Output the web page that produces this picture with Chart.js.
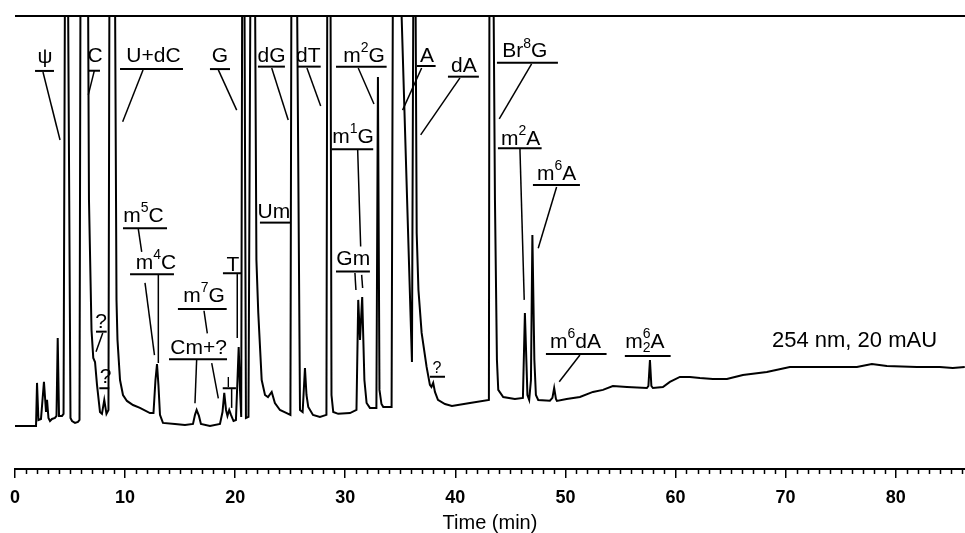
<!DOCTYPE html>
<html>
<head>
<meta charset="utf-8">
<script src="https://cdn.jsdelivr.net/npm/chart.js@4.4.1/dist/chart.umd.min.js"></script>
<style>
  body { margin: 0; background: #fff; }
  canvas { display: block; }
</style>
</head>
<body>
<canvas id="chrom" width="965" height="533"></canvas>
<script>
// retention time (min) and absorbance (mAU); 22 = pen off scale
const timeMin = [
  0.00, 1.91, 2.00, 2.13, 2.36, 2.63, 2.82, 2.91, 3.04, 3.18,
  3.36, 3.63, 3.77, 3.88, 4.00, 4.27, 4.41, 4.54, 4.81, 5.04,
  5.18, 5.45, 5.72, 5.86, 5.95, 6.63, 6.72, 6.95, 7.11, 7.27,
  7.45, 7.72, 7.90, 8.11, 8.31, 8.49, 8.58, 9.08, 9.22, 9.31,
  9.54, 9.81, 10.17, 10.72, 11.35, 12.26, 12.58, 12.76, 12.90, 13.03,
  13.17, 13.44, 14.53, 15.44, 16.17, 16.35, 16.50, 16.71, 16.89, 17.71,
  18.62, 18.85, 19.01, 19.17, 19.30, 19.46, 19.62, 19.85, 20.07, 20.21,
  20.32, 20.44, 20.55, 20.64, 20.84, 20.98, 21.21, 21.39, 21.80, 21.93,
  22.10, 22.41, 22.71, 22.98, 23.32, 23.61, 24.07, 24.68, 25.02, 25.11,
  25.61, 25.89, 26.13, 26.34, 26.48, 26.64, 27.07, 27.70, 28.29, 28.37,
  28.66, 28.75, 28.91, 29.36, 30.43, 31.02, 31.18, 31.34, 31.54, 31.74,
  31.94, 32.24, 32.83, 32.97, 33.11, 33.29, 33.45, 34.21, 34.33, 35.01,
  36.06, 36.19, 36.38, 36.49, 36.65, 36.94, 37.39, 37.69, 37.83, 37.99,
  38.15, 38.42, 39.06, 39.69, 41.33, 43.05, 43.10, 43.46, 43.60, 43.78,
  43.90, 44.35, 45.41, 46.14, 46.32, 46.55, 46.71, 46.87, 47.00, 47.18,
  47.32, 47.53, 48.59, 48.82, 48.98, 49.14, 49.23, 50.11, 51.32, 52.50,
  53.41, 54.31, 55.59, 57.40, 57.54, 57.68, 57.81, 57.95, 58.86, 59.49,
  60.40, 61.31, 62.22, 63.40, 64.67, 66.12, 68.30, 70.39, 72.48, 76.48,
  77.84, 79.20, 81.93, 84.01, 85.19, 86.28
];
const absorbance = [
  0.00, 0.00, 2.10, 0.29, 0.34, 2.15, 0.68, 1.27, 0.39, 0.24,
  0.34, 0.39, 0.49, 4.29, 0.49, 0.49, 0.59, 22, 22, 0.39,
  0.24, 0.15, 0.20, 0.29, 22, 22, 11.02, 4.68, 3.32, 3.12,
  2.00, 0.68, 0.59, 1.27, 0.59, 0.78, 22, 22, 6.15, 4.20,
  2.24, 1.51, 1.22, 1.02, 0.88, 0.63, 0.63, 2.24, 3.02, 2.00,
  0.54, 0.15, 0.10, 0.05, 0.10, 0.54, 0.78, 0.49, 0.10, 0.00,
  0.10, 0.68, 1.61, 0.78, 0.49, 0.78, 0.54, 0.24, 0.29, 2.24,
  3.85, 1.76, 0.44, 22, 22, 0.39, 0.44, 22, 22, 8.10,
  5.51, 2.24, 1.51, 1.41, 1.66, 1.12, 0.78, 0.63, 0.54, 22,
  22, 0.78, 0.68, 2.83, 1.51, 0.93, 0.54, 0.44, 0.54, 22,
  22, 1.51, 0.68, 0.59, 0.63, 0.78, 6.15, 4.20, 6.29, 2.24,
  1.12, 0.88, 0.88, 17.02, 1.76, 1.07, 0.93, 0.93, 22, 22,
  3.12, 22, 22, 9.41, 6.63, 4.54, 2.88, 2.00, 1.90, 2.10,
  1.66, 1.27, 1.07, 0.98, 1.12, 1.27, 22, 22, 11.02, 3.22,
  1.76, 1.41, 1.32, 1.37, 5.51, 1.51, 1.27, 2.24, 9.32, 3.22,
  1.51, 1.27, 1.23, 1.37, 1.85, 1.32, 1.22, 1.32, 1.41, 1.66,
  1.76, 1.95, 1.90, 1.85, 1.95, 3.22, 1.95, 1.85, 1.90, 2.15,
  2.39, 2.39, 2.34, 2.29, 2.29, 2.49, 2.63, 2.88, 2.88, 2.88,
  3.02, 2.93, 2.88, 2.88, 2.83, 2.88
];
const timeTicks = [0, 10, 20, 30, 40, 50, 60, 70, 80];

// peak names: text centre (t, v), underline [t1, t2, v], leader lines [t1, v1, t2, v2]
const peakLabels = [
  { text: 'ψ', t: 2.72, v: 17.71, u: [1.82, 3.54, 17.32], lead: [[2.54, 17.27, 4.09, 13.95]] },
  { text: 'C', t: 7.27, v: 17.76, u: [6.63, 7.72, 17.33], lead: [[7.20, 17.32, 6.66, 16.15]] },
  { text: 'U+dC', t: 12.58, v: 17.76, u: [9.54, 15.26, 17.41], lead: [[11.63, 17.37, 9.78, 14.84]] },
  { text: 'G', t: 18.62, v: 17.76, u: [17.71, 19.53, 17.41], lead: [[18.47, 17.37, 20.14, 15.41]] },
  { text: 'dG', t: 23.30, v: 17.76, u: [22.07, 24.52, 17.53], lead: [[23.32, 17.46, 24.82, 14.93]] },
  { text: 'dT', t: 26.64, v: 17.76, u: [25.70, 27.77, 17.53], lead: [[26.52, 17.46, 27.77, 15.61]] },
  { text: 'm^2G', t: 31.70, v: 17.77, u: [29.16, 33.76, 17.53], lead: [[31.18, 17.46, 32.61, 15.71]] },
  { text: 'A', t: 37.42, v: 17.76, u: [36.51, 38.21, 17.56], lead: [[36.94, 17.46, 35.21, 15.41]] },
  { text: 'dA', t: 40.78, v: 17.27, u: [39.33, 42.14, 17.04], lead: [[40.42, 16.98, 36.85, 14.20]] },
  { text: 'Br^8G', t: 46.32, v: 17.99, u: [43.78, 49.32, 17.72], lead: [[46.93, 17.66, 43.99, 14.98]] },
  { text: 'm^1G', t: 30.70, v: 13.80, u: [28.76, 32.54, 13.50], lead: [[31.13, 13.46, 31.40, 8.75]] },
  { text: 'm^2A', t: 45.94, v: 13.71, u: [43.87, 47.84, 13.55], lead: [[45.87, 13.51, 46.26, 6.15]] },
  { text: 'm^6A', t: 49.20, v: 12.00, u: [47.05, 51.32, 11.76], lead: [[49.20, 11.66, 47.53, 8.67]] },
  { text: 'Um', t: 23.52, v: 10.13, u: [22.25, 24.98, 9.92] },
  { text: 'm^5C', t: 11.67, v: 9.95, u: [9.81, 13.81, 9.64], lead: [[11.20, 9.61, 11.51, 8.49], [11.81, 6.98, 12.67, 3.46]] },
  { text: 'm^4C', t: 12.81, v: 7.66, u: [10.45, 14.44, 7.40], lead: [[13.02, 7.40, 13.02, 3.07]] },
  { text: 'Gm', t: 30.73, v: 7.85, u: [29.16, 32.24, 7.53], lead: [[30.88, 7.46, 30.97, 6.63], [31.49, 7.37, 31.58, 6.73]] },
  { text: 'T', t: 19.80, v: 7.56, u: [18.89, 20.53, 7.45], lead: [[20.19, 7.41, 20.19, 4.29]] },
  { text: 'm^7G', t: 17.17, v: 6.05, u: [14.80, 19.23, 5.71], lead: [[17.17, 5.62, 17.47, 4.52], [17.87, 3.06, 18.47, 1.35]] },
  { text: 'Cm+?', t: 16.68, v: 3.51, u: [13.99, 19.26, 3.25], lead: [[16.50, 3.22, 16.35, 1.11]] },
  { text: 'I', t: 19.37, v: 1.90, u: [18.87, 20.07, 1.84], lead: [[19.68, 1.80, 19.68, 0.88]], size: 15 },
  { text: '?', t: 7.81, v: 4.78, u: [7.36, 8.33, 4.60], lead: [[7.97, 4.54, 7.36, 3.62]] },
  { text: '?', t: 8.22, v: 2.10, u: [7.66, 8.56, 1.84] },
  { text: '?', t: 38.33, v: 2.59, u: [37.69, 39.06, 2.40], size: 16 },
  { text: 'm^6dA', t: 50.91, v: 3.80, u: [48.23, 53.74, 3.51], lead: [[51.32, 3.46, 49.44, 2.16]] },
  { text: 'm_2^6A', t: 57.22, v: 3.80, u: [55.40, 59.56, 3.41] },
  { text: '254 nm, 20 mAU', t: 76.26, v: 3.85, size: 22 }
];

const FONT = '"Liberation Sans", Arial, sans-serif';

// text with ^x superscript and _x subscript (a sub followed by a sup is stacked)
function drawRich(ctx, str, cx, by, size) {
  const toks = [];
  for (let i = 0; i < str.length; i++) {
    const c = str[i];
    if ((c === '^' || c === '_') && i + 1 < str.length) { toks.push({ s: str[i + 1], k: c }); i++; }
    else toks.push({ s: c, k: '' });
  }
  const small = Math.round(size * 0.65);
  const items = [];
  let w = 0;
  toks.forEach((tk, i) => {
    ctx.font = `${tk.k ? small : size}px ${FONT}`;
    const tw = ctx.measureText(tk.s).width;
    if (tk.k === '^' && i > 0 && toks[i - 1].k === '_') {
      const prev = items[items.length - 1];
      items.push({ ...tk, x: prev.x });
      w = Math.max(w, prev.x + tw);
    } else {
      items.push({ ...tk, x: w });
      w += tw;
    }
  });
  const x0 = cx - w / 2;
  items.forEach(it => {
    ctx.font = `${it.k ? small : size}px ${FONT}`;
    const dy = it.k === '^' ? -size * 0.46 : it.k === '_' ? size * 0.2 : 0;
    ctx.fillText(it.s, x0 + it.x, by + dy);
  });
}

const annotate = {
  id: 'annotate',
  afterDraw(chart) {
    const { ctx, chartArea, scales: { x, y } } = chart;
    const px = t => x.getPixelForValue(t);
    const py = v => y.getPixelForValue(v);
    const seg = (x1, y1, x2, y2, lw) => {
      ctx.lineWidth = lw;
      ctx.beginPath(); ctx.moveTo(x1, y1); ctx.lineTo(x2, y2); ctx.stroke();
    };
    ctx.save();
    ctx.fillStyle = '#000';
    ctx.strokeStyle = '#000';
    ctx.textAlign = 'left';
    ctx.textBaseline = 'alphabetic';
    peakLabels.forEach(l => {
      drawRich(ctx, l.text, px(l.t), py(l.v), l.size || 21);
      if (l.u) seg(px(l.u[0]), py(l.u[2]), px(l.u[1]), py(l.u[2]), 2);
      (l.lead || []).forEach(s => seg(px(s[0]), py(s[1]), px(s[2]), py(s[3]), 1.5));
    });
    // minor ticks every minute
    for (let t = 0; t <= x.max; t++) {
      if (t % 10 === 0) continue;
      const xx = Math.round(px(t)) + 0.5;
      seg(xx, chartArea.bottom, xx, chartArea.bottom + 5, 1.5);
    }
    ctx.restore();
  }
};

new Chart(document.getElementById('chrom'), {
  type: 'line',
  data: {
    datasets: [{
      data: timeMin.map((t, i) => ({ x: t, y: absorbance[i] })),
      borderColor: '#000',
      borderWidth: 2,
      pointRadius: 0,
      tension: 0,
      fill: false
    }]
  },
  options: {
    responsive: false,
    animation: false,
    devicePixelRatio: 1,
    layout: { padding: { left: 15, right: 0, top: 16, bottom: 0 } },
    plugins: { legend: { display: false }, tooltip: { enabled: false } },
    scales: {
      x: {
        type: 'linear',
        min: 0,
        max: 86.3,
        afterBuildTicks: s => { s.ticks = timeTicks.map(v => ({ value: v })); },
        afterFit: s => { s.height = 64; },
        ticks: { color: '#000', padding: 9, maxRotation: 0, autoSkip: false, font: { family: FONT, size: 18, weight: 'bold' } },
        grid: { drawOnChartArea: false, drawTicks: true, tickLength: 9, color: '#000', lineWidth: 1.5 },
        border: { display: true, color: '#000', width: 2 },
        title: { display: true, text: 'Time (min)', color: '#000', padding: 0, font: { family: FONT, size: 20, lineHeight: 1 } }
      },
      y: {
        min: -2.1,
        max: 20,
        afterBuildTicks: s => { s.ticks = [{ value: 20 }]; },
        ticks: { display: false },
        grid: { drawTicks: false, color: '#000', lineWidth: 2 },
        border: { display: false }
      }
    }
  },
  plugins: [annotate]
});
</script>
</body>
</html>
